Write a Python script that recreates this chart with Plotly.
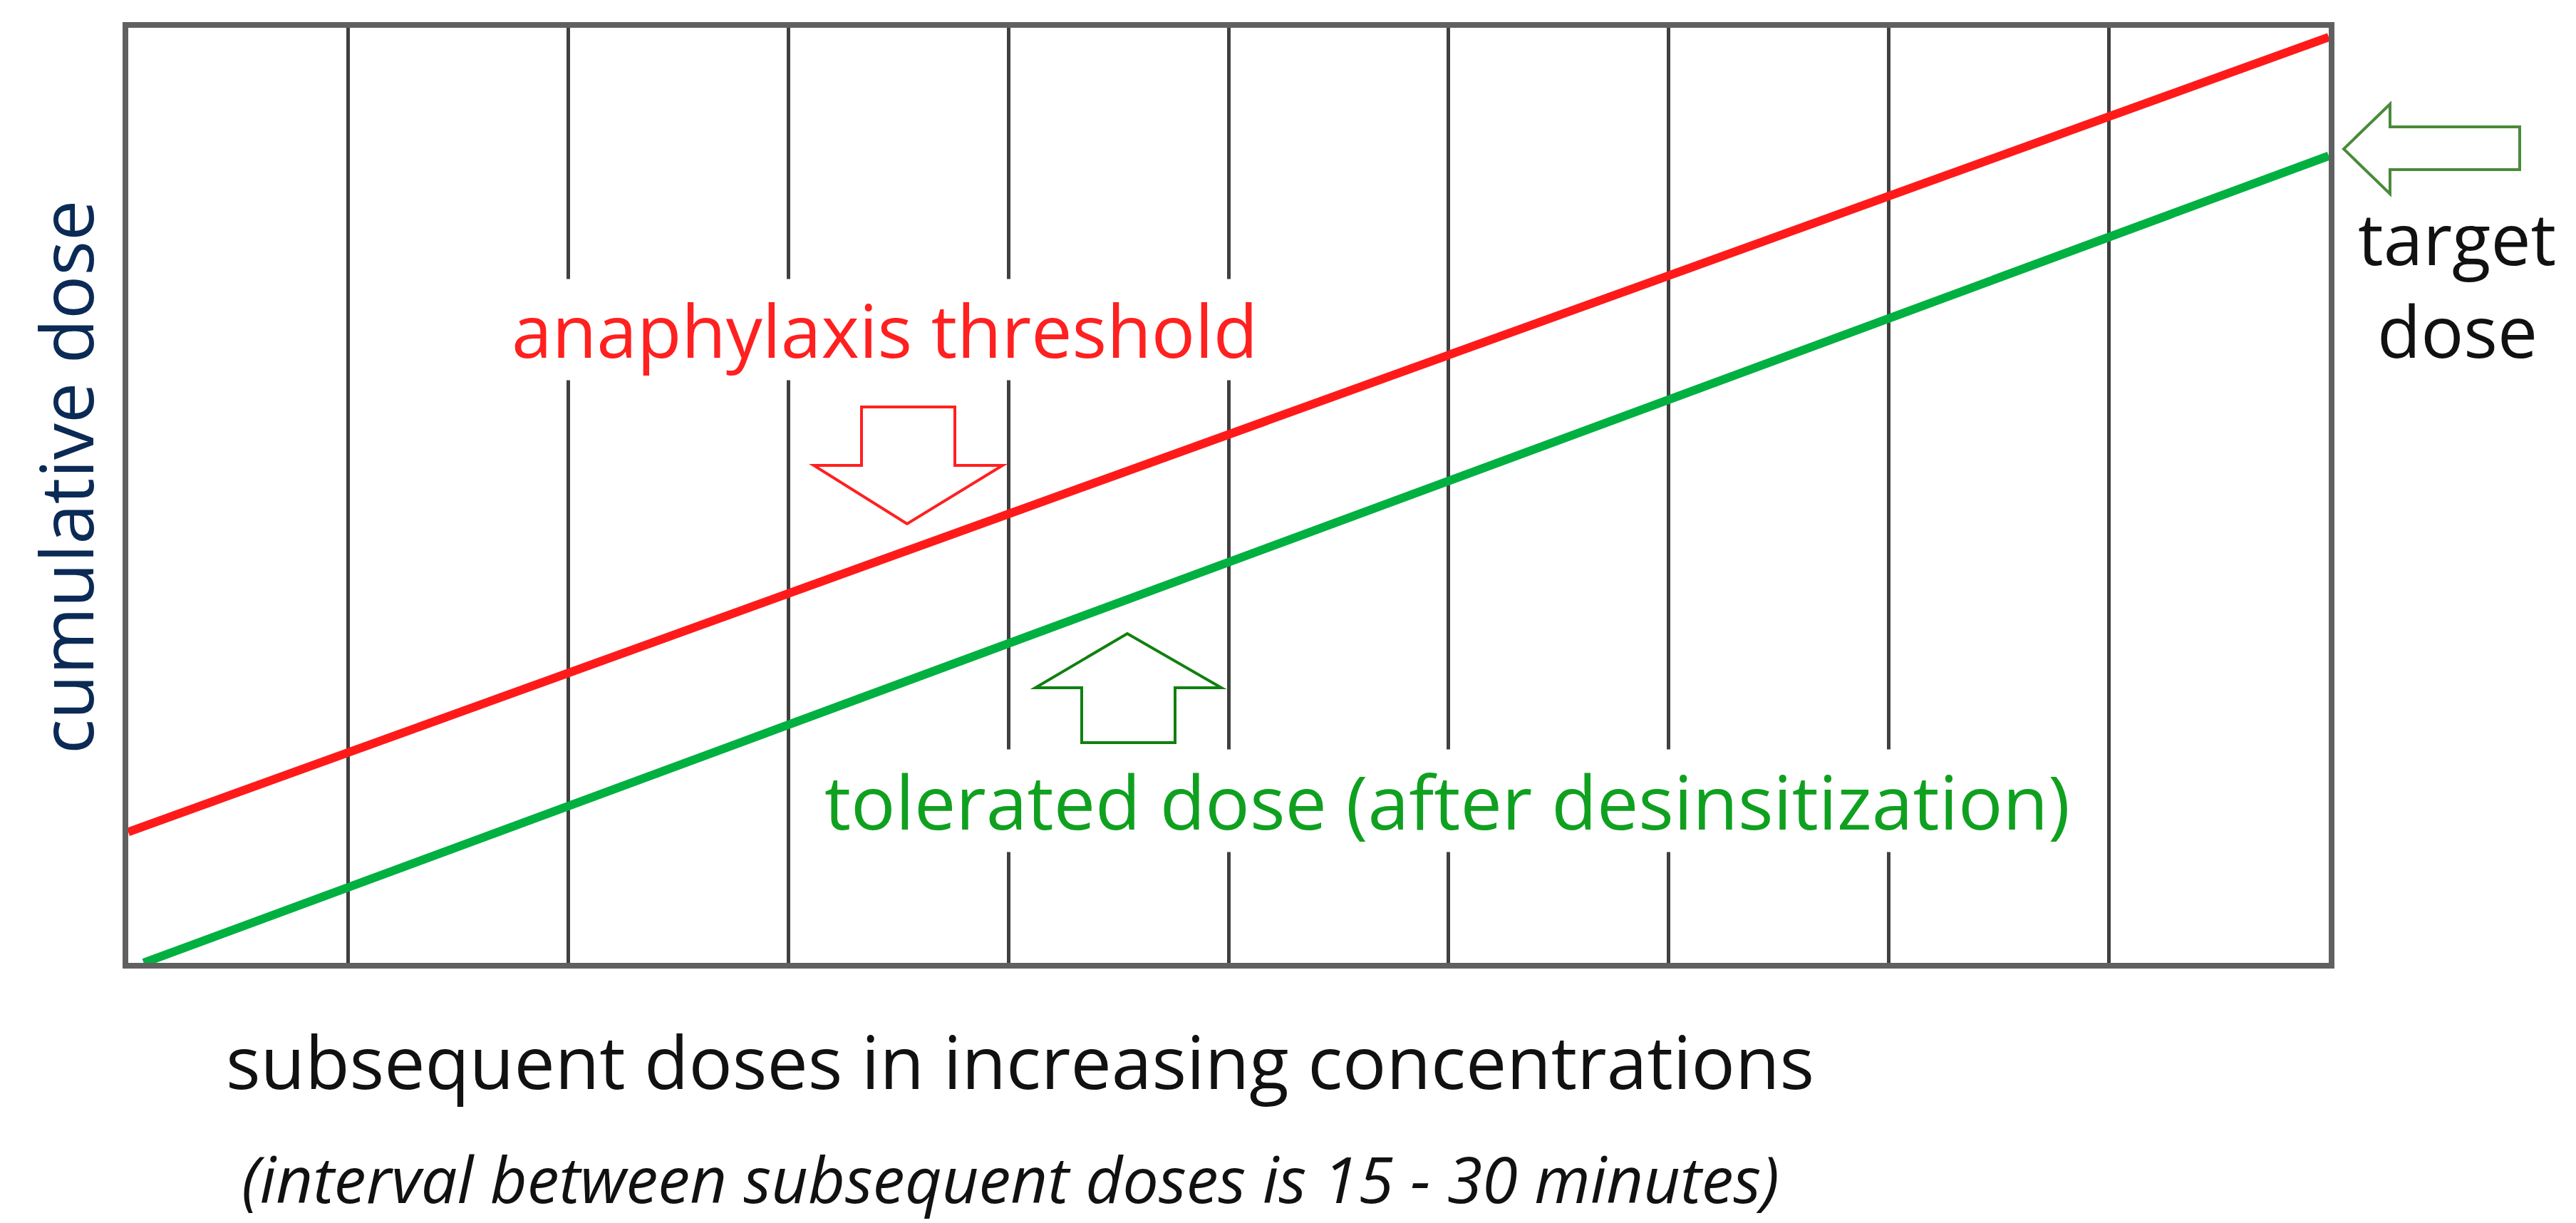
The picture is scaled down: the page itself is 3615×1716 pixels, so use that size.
import plotly.graph_objects as go

# data
red_x = [0, 10]
red_y = [0.14, 0.99]
green_x = [0.07, 10]
green_y = [0.0, 0.863]
grid_positions = [0, 1, 2, 3, 4, 5, 6, 7, 8, 9, 10]

W, H = 3615, 1716
L, R, T, B = 172, 3260, 31, 1343

def px(x):
    return (x - L) / (R - L)

def py(y):
    return (B - y) / (B - T)

fig = go.Figure()
fig.add_trace(go.Scatter(x=red_x, y=red_y, mode="lines", line=dict(color="#ff1a1a", width=12), showlegend=False))
fig.add_trace(go.Scatter(x=green_x, y=green_y, mode="lines", line=dict(color="#00b040", width=12), showlegend=False))

def poly(points, color):
    path = "M " + " L ".join(f"{px(x)},{py(y)}" for x, y in points) + " Z"
    fig.add_shape(type="path", path=path, xref="paper", yref="paper",
                  line=dict(color=color, width=4), fillcolor="rgba(0,0,0,0)")

# red down arrow
poly([(1201, 563), (1332, 563), (1332, 645), (1399, 645), (1265, 727), (1134, 645), (1201, 645)], "#ff2020")
# green up arrow
poly([(1510, 1034), (1641, 1034), (1641, 957), (1706, 957), (1574, 881), (1445, 957), (1510, 957)], "#108010")
# target arrow (left)
poly([(3528, 170), (3528, 230), (3346, 230), (3346, 264), (3281, 201), (3346, 138), (3346, 170)], "#4a8a3a")

font = "Open Sans"
def ann(text, x, y, size, color, bg=None, italic=False, angle=0):
    fig.add_annotation(text=text, x=px(x), y=py(y), xref="paper", yref="paper",
                       showarrow=False, xanchor="center", yanchor="middle", textangle=angle,
                       font=dict(family=font, size=size, color=color,
                                 style="italic" if italic else "normal"),
                       bgcolor=bg)

ann("anaphylaxis threshold", 1233, 455, 102, "#ff2020", bg="white")
ann("tolerated dose (after desinsitization)", 2023, 1115, 104, "#10a020", bg="white")
ann("target", 3440, 325, 100, "#111111")
ann("dose", 3440, 455, 100, "#111111")
ann("subsequent doses in increasing concentrations", 1423, 1480, 102, "#111111")
ann("(interval between subsequent doses is 15 - 30 minutes)", 1410, 1645, 90, "#111111", italic=True)
ann("cumulative dose", 83, 662, 102, "#0b2a55", angle=-90)

fig.update_xaxes(range=[0, 10], tickvals=grid_positions, showticklabels=False, ticks="",
                 showgrid=True, gridcolor="#404040", gridwidth=5, zeroline=False,
                 showline=True, linecolor="#606060", linewidth=8, mirror=True)
fig.update_yaxes(range=[0, 1], showticklabels=False, ticks="", showgrid=False, zeroline=False,
                 showline=True, linecolor="#606060", linewidth=8, mirror=True)
fig.update_layout(width=W, height=H, margin=dict(l=L, r=W - R, t=T, b=H - B),
                  plot_bgcolor="white", paper_bgcolor="white")
fig.write_html("out.html")
